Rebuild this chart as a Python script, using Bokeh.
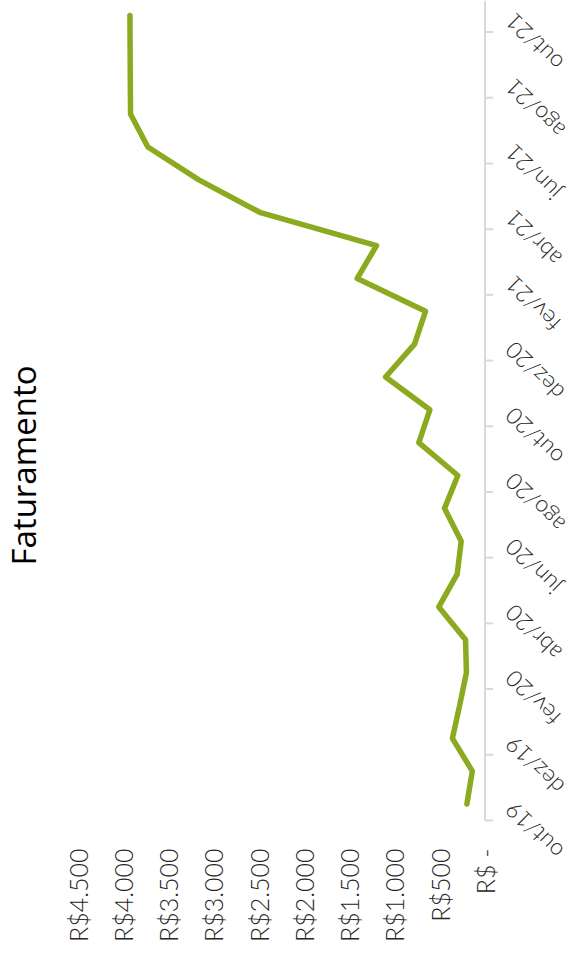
from math import pi
from bokeh.plotting import figure
from bokeh.core.properties import value
from bokeh.models import Range1d, FixedTicker, Label
from bokeh.embed import file_html
from bokeh.resources import INLINE

# ---- data ----
months = ["out/19", "nov/19", "dez/19", "jan/20", "fev/20", "mar/20", "abr/20",
          "mai/20", "jun/20", "jul/20", "ago/20", "set/20", "out/20", "nov/20",
          "dez/20", "jan/21", "fev/21", "mar/21", "abr/21", "mai/21", "jun/21",
          "jul/21", "ago/21", "set/21", "out/21"]
faturamento = [200, 140, 360, 280, 205, 215, 510, 307, 263, 447, 300, 731, 609,
               1098, 778, 657, 1411, 1198, 2478, 3160, 3723, 3914, 3917, 3919, 3921]
value_ticks = [0, 500, 1000, 1500, 2000, 2500, 3000, 3500, 4000, 4500]
value_labels = ["R$ -", "R$500", "R$1.000", "R$1.500", "R$2.000", "R$2.500",
                "R$3.000", "R$3.500", "R$4.000", "R$4.500"]
title_text = "Faturamento"

idx = list(range(len(months)))
label_pos = idx[::2]
FONT = "Lato Light"
TITLE_FONT = "Open Sans"
AXIS_GRAY = "#d9d9d9"

# frame covers the full width; value 4500 at 77px, value 0 at 484.5px
FRAME_W, FRAME_H = 569, 862
PX_LEFT, PX_ZERO = 77, 484.5
k = value_ticks[-1] / (PX_ZERO - PX_LEFT)          # value units per pixel
x_start = value_ticks[-1] + PX_LEFT * k
x_end = -(FRAME_W - PX_ZERO) * k
y_axis_start, y_end = -0.5, 24.46                  # category axis extent
y_start = -1.78                                    # room for the lowest month label

p = figure(frame_width=FRAME_W, frame_height=FRAME_H,
           x_range=Range1d(x_start, x_end), y_range=Range1d(y_start, y_end),
           output_backend="svg", toolbar_location=None,
           x_axis_location="below", y_axis_location=None,
           min_border_left=0, min_border_right=0,
           min_border_top=0, min_border_bottom=100)
p.outline_line_color = None
p.xgrid.visible = False
p.ygrid.visible = False

# value axis (horizontal, reversed)
xa = p.xaxis[0]
xa.ticker = FixedTicker(ticks=value_ticks)
xa.major_label_overrides = {t: l for t, l in zip(value_ticks, value_labels)}
xa.major_label_orientation = pi / 2
xa.axis_line_color = None
xa.major_tick_line_color = None
xa.major_tick_out = 0
xa.major_tick_in = 0
xa.minor_tick_line_color = None
xa.major_label_standoff = -14
xa.major_label_text_font = FONT
xa.major_label_text_font_size = "25px"
xa.major_label_text_color = "#262626"

# category axis line at value 0, with tick marks between every other month
p.segment(x0=[0], x1=[0], y0=[y_axis_start], y1=[y_end],
          line_color=AXIS_GRAY, line_width=2)
tick_y = [i - 0.5 for i in label_pos]
p.segment(x0=[0] * len(tick_y), x1=[-8 * k] * len(tick_y), y0=tick_y, y1=tick_y,
          line_color=AXIS_GRAY, line_width=2)

# the series
p.line(faturamento, idx, line_color="#8BAA1F", line_width=5.5,
       line_join="round", line_cap="round")

# month labels, rotated, ending next to the axis
p.text(x=[0] * len(label_pos), y=label_pos, text=[months[i] for i in label_pos],
       angle=3 * pi / 4, text_align="right", text_baseline="middle",
       x_offset=24, y_offset=2,
       text_font=value(FONT), text_font_size=value("23px"), text_color="#262626")

# title (vertical, reading upwards)
p.add_layout(Label(x=23, y=297, x_units="screen", y_units="screen",
                   text=title_text, angle=pi / 2,
                   text_align="left", text_baseline="alphabetic",
                   text_font=TITLE_FONT, text_font_size="33px", text_color="#000000"))

open("out.html", "w").write(file_html(p, INLINE))
